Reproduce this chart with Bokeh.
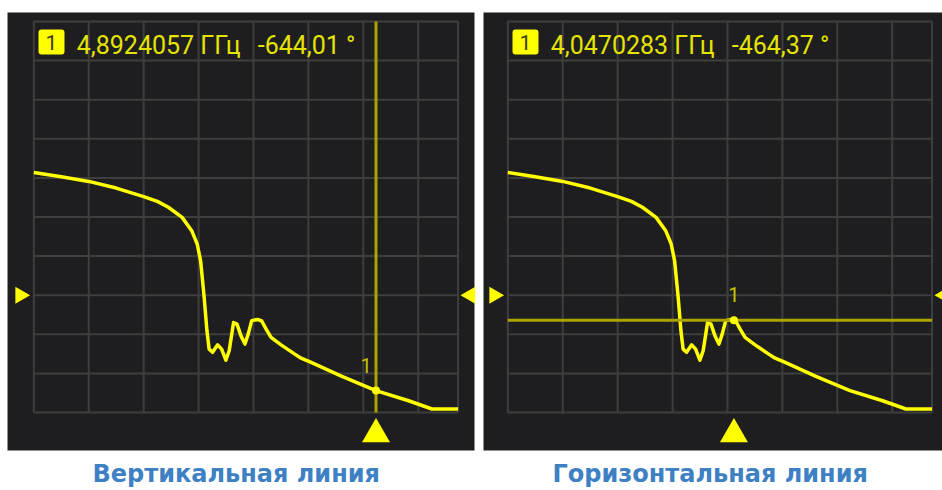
import math
from bokeh.plotting import figure
from bokeh.layouts import row
from bokeh.models import Range1d, Label, BoxAnnotation
from bokeh.core.properties import value
from bokeh.embed import file_html
from bokeh.resources import INLINE

# ---------------- data ----------------
freq_ghz = [2.40, 2.60, 2.80, 3.00, 3.20, 3.30, 3.38, 3.48, 3.55, 3.59,
            3.615, 3.622, 3.641, 3.661, 3.677, 3.702, 3.739, 3.768, 3.799, 3.823,
            3.855, 3.880, 3.909, 3.938, 3.962, 3.987, 4.030, 4.060, 4.091, 4.128,
            4.201, 4.298, 4.347, 4.420, 4.640, 4.892, 5.130, 5.300, 5.490]
phase_deg = [-86, -97, -109, -126, -148, -160, -175, -201, -235, -269,
             -312, -337, -406, -491, -538, -546, -527, -538, -566, -542,
             -470, -474, -504, -525, -499, -465, -462, -466, -486, -508,
             -527, -550, -561, -572, -607, -644, -670, -691, -691]

grid_freq = [2.4, 2.8, 3.2, 3.6, 4.0, 4.4, 4.8, 5.2, 5.49]
grid_phase = [300, 200, 100, 0, -100, -200, -300, -400, -500, -600, -700]
ref_level = -400

marker_freq = [4.8924057, 4.0470283]
marker_phase = [-644.01, -464.37]
cursor_kind = ["vertical", "horizontal"]
panel_titles = ["Вертикальная линия", "Горизонтальная линия"]

# ---------------- layout constants (page pixels) ----------------
PX_PER_GHZ = 137.3
PX_PER_DEG = 39.1 / 100.0
GRID_TOP_PY = 21.0
PAGE_H = 490
fig_left_px = [0, 478]
fig_width = [478, 464]
grid_left_px = [33.3, 507.3]
dark_left_px = [7.0, 483.0]
dark_right_px = [474.0, 942.0]
DARK_TOP_PY = 12.0
DARK_BOTTOM_PY = 450.0
title_left_px = [92, 552]
READOUT_PY = 45
CAPTION_PY = 473

BG = "#1e1e20"
GRID_C = "#3e3e3e"
CURVE_C = "#ffff00"
CURSOR_C = "#aaa300"
TEXT_C = "#e4e400"
TITLE_C = "#3d80c4"


def make_panel(i):
    gl = grid_left_px[i]

    def xd(px):
        return grid_freq[0] + (px - gl) / PX_PER_GHZ

    def yd(py):
        return grid_phase[0] - (py - GRID_TOP_PY) / PX_PER_DEG

    p = figure(width=fig_width[i], height=PAGE_H, output_backend="svg",
               toolbar_location=None, x_axis_location=None, y_axis_location=None,
               x_range=Range1d(xd(fig_left_px[i]), xd(fig_left_px[i] + fig_width[i])),
               y_range=Range1d(yd(PAGE_H), yd(0)),
               min_border=0, min_border_left=0, min_border_right=0,
               min_border_top=0, min_border_bottom=0)
    p.background_fill_color = "white"
    p.border_fill_color = "white"
    p.outline_line_color = None
    p.xgrid.visible = False
    p.ygrid.visible = False

    # dark instrument screen
    p.add_layout(BoxAnnotation(left=xd(dark_left_px[i]), right=xd(dark_right_px[i]),
                               top=yd(DARK_TOP_PY), bottom=yd(DARK_BOTTOM_PY),
                               fill_color=BG, fill_alpha=1.0, line_color=None,
                               level="underlay"))

    # graticule
    x0, x1 = grid_freq[0], grid_freq[-1]
    y0, y1 = grid_phase[-1], grid_phase[0]
    p.segment(x0=grid_freq, y0=[y0] * len(grid_freq), x1=grid_freq, y1=[y1] * len(grid_freq),
              line_color=GRID_C, line_width=2)
    p.segment(x0=[x0] * len(grid_phase), y0=grid_phase, x1=[x1] * len(grid_phase), y1=grid_phase,
              line_color=GRID_C, line_width=2)

    # trace
    p.line(freq_ghz, phase_deg, line_color=CURVE_C, line_width=3.5, line_join="round")

    mf, mp = marker_freq[i], marker_phase[i]
    # cursor line
    if cursor_kind[i] == "vertical":
        p.segment(x0=[mf], y0=[y0], x1=[mf], y1=[y1], line_color=CURSOR_C, line_width=3)
    else:
        p.segment(x0=[x0], y0=[mp], x1=[x1], y1=[mp], line_color=CURSOR_C, line_width=3)

    # marker dot and its number
    p.scatter([mf], [mp], marker="circle", size=8, fill_color=CURVE_C, line_color=None)
    p.text([mf], [mp], text=["1"], text_font=value("Roboto"), text_font_size="20px",
           text_color="#c4c400", text_align="center", text_baseline="bottom",
           x_offset=-10 if cursor_kind[i] == "vertical" else 0, y_offset=-18)

    # bottom stimulus triangle at marker frequency
    p.scatter([mf], [yd(433.7)], marker="triangle", size=28, fill_color=CURVE_C, line_color=None)
    # reference-level triangles at both sides
    p.scatter([xd(gl - 13.5)], [ref_level], marker="triangle", size=17, angle=-math.pi / 2,
              fill_color=CURVE_C, line_color=None)
    p.scatter([xd(gl + 436.5)], [ref_level], marker="triangle", size=17, angle=math.pi / 2,
              fill_color=CURVE_C, line_color=None)

    # readout
    p.add_layout(BoxAnnotation(left=xd(gl + 4.7), right=xd(gl + 30.7), top=yd(29), bottom=yd(54),
                               fill_color="#ffff00", fill_alpha=1.0, line_color=None,
                               border_radius=3))
    p.add_layout(Label(x=xd(gl + 17.7), y=yd(41.5), text="1", text_font="Roboto",
                       text_font_size="21px", text_color="#3c3c14", text_align="center",
                       text_baseline="middle"))
    ftxt = ("%.7f" % mf).replace(".", ",") + " ГГц"
    ptxt = ("%.2f" % mp).replace(".", ",") + " °"
    p.add_layout(Label(x=xd(gl + 43), y=yd(READOUT_PY), text=ftxt, text_font="Roboto",
                       text_font_size="25px", text_color=TEXT_C, text_baseline="alphabetic"))
    p.add_layout(Label(x=xd(gl + 224), y=yd(READOUT_PY), text=ptxt, text_font="Roboto",
                       text_font_size="25px", text_color=TEXT_C, text_baseline="alphabetic"))

    # caption under the screen
    p.add_layout(Label(x=xd(title_left_px[i]), y=yd(CAPTION_PY), text=panel_titles[i],
                       text_font="DejaVu Sans", text_font_size="24px", text_font_style="bold",
                       text_color=TITLE_C, text_baseline="alphabetic", text_align="left"))
    return p


layout = row(make_panel(0), make_panel(1))
open("out.html", "w").write(file_html(layout, INLINE))
